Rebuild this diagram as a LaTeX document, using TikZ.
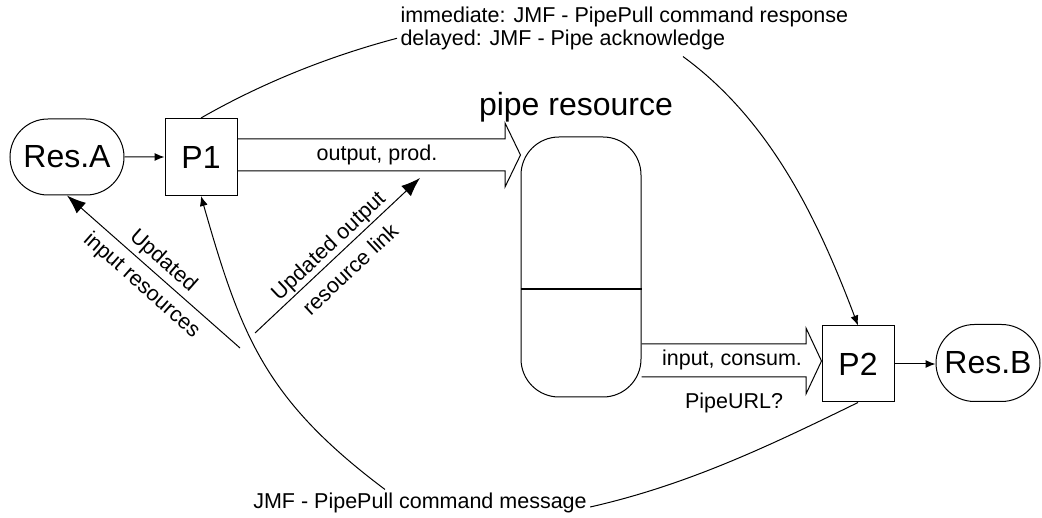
\documentclass[tikz,border=0pt]{standalone}
\usepackage{fontspec}
\setmainfont{Liberation Sans}
\usetikzlibrary{
    arrows.meta,    % arrow tips with a given size
    shapes.misc     % rounded rectangle for the resources
}
\newcommand{\smallfont}{\fontsize{21.5}{23.5}\selectfont}
\newcommand{\bigfont}{\fontsize{32}{36}\selectfont}
\tikzset{
    res node/.style={draw, rounded rectangle, font=\bigfont, inner sep=0pt},
    proc node/.style={draw, rectangle, font=\bigfont, inner sep=0pt},
    pipe node/.style={draw, rectangle, rounded corners=38pt},
    msg text/.style={font=\smallfont, inner sep=1pt},
    thin arrow/.style={-{Latex[length=10pt,width=8pt]}},
    fat arrow/.style={-{Latex[length=19pt,width=14pt]}},
    hollow arrow/.style={draw, line join=miter},
    upd label/.style={midway, sloped, align=center, font=\smallfont, inner sep=0pt}
}

\begin{document}
\begin{tikzpicture}[x=1pt, y=-1pt, line width=1pt]
    \useasboundingbox (0,0) rectangle (1042,518);

    % resources and processes
    \node[res node, minimum width=114pt, minimum height=76pt] (resA) at (67,157) {Res.A};
    \node[proc node, minimum width=72pt, minimum height=77pt] (P1) at (201,157) {P1};
    \node[proc node, minimum width=72pt, minimum height=76pt] (P2) at (858,364) {P2};
    \node[res node, minimum width=104pt, minimum height=77pt] (resB) at (988,363) {Res.B};

    % the pipe
    \node[pipe node, minimum width=120pt, minimum height=260pt] (pipe) at (581,267) {};
    \draw[line width=1.6pt] (pipe.west |- 0,289) -- (pipe.east |- 0,289);
    \node[font=\bigfont, inner sep=0pt] (pipelbl) at (576,107) {pipe resource};

    \draw[thin arrow] (resA) -- (P1);
    \draw[thin arrow] (P2) -- (resB.west |- P2);

    % hollow arrows in and out of the pipe
    \draw[hollow arrow] (P1.east |- 0,139) -- (505,139) -- (505,123) -- (pipe.west |- 0,155)
        -- (505,187) -- (505,171) -- (P1.east |- 0,171);
    \node[msg text] (outlbl) at (377,155) {output, prod.};
    \draw[hollow arrow] (pipe.east |- 0,344) -- (806,344) -- (806,328) -- (P2.west |- 0,361)
        -- (806,394) -- (806,377) -- (pipe.east |- 0,377);
    \node[msg text] (inlbl) at (732,360) {input, consum.};
    \node[msg text] (url) at (734,403) {PipeURL?};

    % JMF messages
    \node[msg text, anchor=north west, align=left, inner sep=0pt] (resp) at (400,6)
        {immediate: JMF - PipePull command response\\delayed: JMF - Pipe acknowledge};
    \node[msg text, inner sep=0pt] (cmd) at (420,503) {JMF - PipePull command message};

    \draw (P1.north) .. controls +(61,-35) and +(-68,18) .. ([xshift=-3pt,yshift=-10pt]resp.west);
    \draw[thin arrow] ([xshift=283pt,yshift=-6pt]resp.south west) .. controls +(89,65) and +(-39,-103) .. (P2.north);
    \draw[thin arrow] ([xshift=-35pt,yshift=3pt]cmd.north) .. controls +(-120,-90) and +(40,140) .. (P1.south);
    \draw ([xshift=3pt,yshift=-4pt]cmd.east) .. controls +(97,-22) and +(-90,44) .. (P2.south);

    % updated links
    \coordinate (updin) at (240,348);
    \coordinate (updout) at (255,333);
    \coordinate (linktip) at (420,178);
    \draw[fat arrow] (updin) -- node[upd label, yshift=-2pt] {Updated\\[9pt]input resources} (resA.south);
    \draw[fat arrow] (updout) -- node[upd label, yshift=-2pt] {Updated output\\[9pt]resource link} (linktip);
\end{tikzpicture}
\end{document}
